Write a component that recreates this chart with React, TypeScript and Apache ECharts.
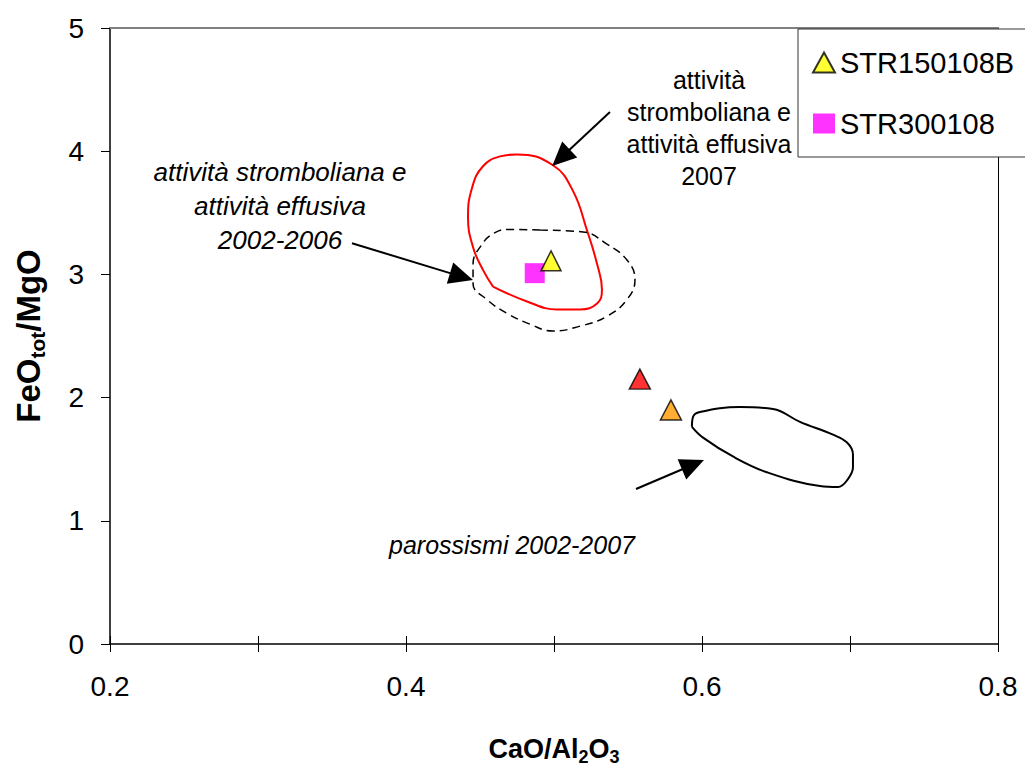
import React, { useEffect, useRef } from "react";
import * as echarts from "echarts";

const FONT = '"Liberation Sans", Arial, Helvetica, sans-serif';

// Axis settings
const X_MIN = 0.2;
const X_MAX = 0.8;
const X_STEP = 0.1;
const Y_MIN = 0;
const Y_MAX = 5;
const Y_STEP = 1;

// Samples [CaO/Al2O3, FeOtot/MgO]
const STR150108B = [[0.498, 3.11]];
const STR300108 = [[0.487, 3.01]];
const SAMPLE_RED = [[0.558, 2.15]];
const SAMPLE_ORANGE = [[0.579, 1.9]];

// Compositional fields (closed outlines)
const FIELD_2007 = [
  [0.4588, 2.901],
  [0.4818, 2.78],
  [0.502, 2.716],
  [0.5176, 2.716],
  [0.5291, 2.764],
  [0.5324, 2.877],
  [0.5291, 3.085],
  [0.5223, 3.357],
  [0.5128, 3.678],
  [0.4993, 3.886],
  [0.475, 3.974],
  [0.4635, 3.958],
  [0.452, 3.878],
  [0.4446, 3.702],
  [0.4419, 3.462],
  [0.4453, 3.221],
  [0.452, 3.037],
  [0.4588, 2.901],
];

const FIELD_2002_2006 = [
  [0.4905, 3.36],
  [0.5196, 3.345],
  [0.5358, 3.245],
  [0.5493, 3.117],
  [0.5547, 2.957],
  [0.5493, 2.796],
  [0.5358, 2.66],
  [0.5176, 2.58],
  [0.4993, 2.54],
  [0.4838, 2.596],
  [0.4682, 2.684],
  [0.4547, 2.796],
  [0.4453, 2.925],
  [0.4453, 3.085],
  [0.4514, 3.245],
  [0.4588, 3.33],
  [0.4682, 3.365],
  [0.4905, 3.36],
];

const FIELD_PAROX = [
  [0.5932, 1.763],
  [0.5939, 1.843],
  [0.5986, 1.883],
  [0.6257, 1.923],
  [0.648, 1.907],
  [0.6662, 1.803],
  [0.6885, 1.699],
  [0.698, 1.635],
  [0.702, 1.538],
  [0.702, 1.434],
  [0.6986, 1.338],
  [0.6919, 1.274],
  [0.6797, 1.282],
  [0.6439, 1.394],
  [0.6209, 1.522],
  [0.6007, 1.675],
  [0.5932, 1.763],
];

// Arrows [start, head]
const ARROWS = [
  [[0.5378, 4.319], [0.5047, 3.947]],
  [[0.3635, 3.253], [0.4375, 2.982]],
  [[0.5554, 1.258], [0.5939, 1.455]],
];

const LABEL_2007 = ["attività", "stromboliana e", "attività effusiva", "2007"];
const LABEL_2002_2006 = ["attività stromboliana e", "attività effusiva", "2002-2006"];
const LABEL_PAROX = ["parossismi 2002-2007"];

const LEGEND_ITEMS = ["STR150108B", "STR300108"];

export default function App() {
  const ref = useRef<HTMLDivElement>(null);

  useEffect(() => {
    if (!ref.current) return;
    const chart = echarts.init(ref.current, null, { renderer: "svg" });

    const richX = {
      b: { fontSize: 27, fontWeight: "bold", fontFamily: FONT, color: "#000", lineHeight: 34 },
      s: { fontSize: 18, fontWeight: "bold", fontFamily: FONT, color: "#000", verticalAlign: "bottom" },
    };
    const richY = {
      b: { fontSize: 33, fontWeight: "bold", fontFamily: FONT, color: "#000", lineHeight: 40 },
      s: { fontSize: 21, fontWeight: "bold", fontFamily: FONT, color: "#000", verticalAlign: "bottom" },
    };

    const triStyle = (color: string) => ({
      color,
      borderColor: "#000",
      borderWidth: 1.5,
    });

    const option: any = {
      animation: false,
      backgroundColor: "#fff",
      grid: { left: 110, right: 27, top: 28, bottom: 119, containLabel: false },
      legend: {
        data: LEGEND_ITEMS,
        orient: "vertical",
        left: 798,
        top: 29,
        padding: [19, 40, 19, 14],
        itemGap: 32,
        itemWidth: 22,
        itemHeight: 20,
        borderColor: "#333",
        borderWidth: 1,
        borderRadius: 0,
        backgroundColor: "#fff",
        textStyle: { fontSize: 29, fontFamily: FONT, color: "#000" },
        selectedMode: false,
      },
      xAxis: [
        {
          type: "value",
          min: X_MIN,
          max: X_MAX,
          interval: X_STEP,
          position: "bottom",
          axisLine: { show: true, lineStyle: { color: "#000", width: 1.5 } },
          axisTick: { show: true, length: 8, lineStyle: { color: "#000", width: 1 } },
          axisLabel: {
            fontSize: 28,
            fontFamily: FONT,
            color: "#000",
            margin: 28,
            formatter: (v: number) => (Math.round(v * 10) % 2 === 0 ? v.toFixed(1) : ""),
          },
          splitLine: { show: false },
          name: "{b|CaO/Al}{s|2}{b|O}{s|3}",
          nameLocation: "middle",
          nameGap: 88,
          nameTextStyle: { rich: richX },
        },
        {
          type: "value",
          min: X_MIN,
          max: X_MAX,
          interval: X_STEP,
          position: "bottom",
          axisLine: { show: false },
          axisTick: { show: true, inside: true, length: 8, lineStyle: { color: "#000", width: 1 } },
          axisLabel: { show: false },
          splitLine: { show: false },
        },
        {
          type: "value",
          min: X_MIN,
          max: X_MAX,
          position: "top",
          axisLine: { show: true, lineStyle: { color: "#808080", width: 2 } },
          axisTick: { show: false },
          axisLabel: { show: false },
          splitLine: { show: false },
        },
      ],
      yAxis: [
        {
          type: "value",
          min: Y_MIN,
          max: Y_MAX,
          interval: Y_STEP,
          position: "left",
          axisLine: { show: true, lineStyle: { color: "#000", width: 1.5 } },
          axisTick: { show: true, length: 9, lineStyle: { color: "#000", width: 1 } },
          axisLabel: { fontSize: 28, fontFamily: FONT, color: "#000", margin: 26 },
          splitLine: { show: false },
          name: "{b|FeO}{s|tot}{b|/MgO}",
          nameLocation: "middle",
          nameRotate: 90,
          nameGap: 62,
          nameTextStyle: { rich: richY },
        },
        {
          type: "value",
          min: Y_MIN,
          max: Y_MAX,
          position: "right",
          axisLine: { show: true, lineStyle: { color: "#000", width: 1 } },
          axisTick: { show: false },
          axisLabel: { show: false },
          splitLine: { show: false },
        },
      ],
      series: [
        {
          name: "attività stromboliana e attività effusiva 2007",
          type: "line",
          data: FIELD_2007,
          smooth: 0.45,
          symbol: "none",
          lineStyle: { color: "#ff0000", width: 2 },
          silent: true,
          z: 2,
        },
        {
          name: "attività stromboliana e attività effusiva 2002-2006",
          type: "line",
          data: FIELD_2002_2006,
          smooth: 0.45,
          symbol: "none",
          lineStyle: { color: "#000", width: 1.5, type: [8, 5] },
          silent: true,
          z: 2,
        },
        {
          name: "parossismi 2002-2007",
          type: "line",
          data: FIELD_PAROX,
          smooth: 0.4,
          symbol: "none",
          lineStyle: { color: "#000", width: 2 },
          silent: true,
          z: 2,
          markLine: {
            silent: true,
            animation: false,
            symbol: ["none", "triangle"],
            symbolSize: [22, 24],
            label: { show: false },
            lineStyle: { color: "#000", width: 2, type: "solid" },
            itemStyle: { color: "#000" },
            data: ARROWS.map(([a, b]) => [{ coord: a }, { coord: b }]),
          },
        },
        {
          name: "sample red",
          type: "scatter",
          data: SAMPLE_RED,
          symbol: "triangle",
          symbolSize: [21, 20],
          itemStyle: triStyle("#ff0000"),
          z: 5,
        },
        {
          name: "sample orange",
          type: "scatter",
          data: SAMPLE_ORANGE,
          symbol: "triangle",
          symbolSize: [21, 20],
          itemStyle: triStyle("#ff9900"),
          z: 5,
        },
        {
          name: "STR300108",
          type: "scatter",
          data: STR300108,
          symbol: "rect",
          symbolSize: 20,
          itemStyle: { color: "#ff00ff" },
          z: 5,
        },
        {
          name: "STR150108B",
          type: "scatter",
          data: STR150108B,
          symbol: "triangle",
          symbolSize: [20, 20],
          itemStyle: triStyle("#ffff00"),
          z: 6,
        },
      ],
      graphic: [
        {
          type: "text",
          x: 709,
          y: 128,
          z: 10,
          style: {
            text: LABEL_2007.join("\n"),
            fontSize: 25,
            fontFamily: FONT,
            fill: "#000",
            textAlign: "center",
            textVerticalAlign: "middle",
            lineHeight: 32,
          },
        },
        {
          type: "text",
          x: 280,
          y: 206,
          z: 10,
          style: {
            text: LABEL_2002_2006.join("\n"),
            fontSize: 26,
            fontStyle: "italic",
            fontFamily: FONT,
            fill: "#000",
            textAlign: "center",
            textVerticalAlign: "middle",
            lineHeight: 34,
          },
        },
        {
          type: "text",
          x: 512,
          y: 545,
          z: 10,
          style: {
            text: LABEL_PAROX.join("\n"),
            fontSize: 25,
            fontStyle: "italic",
            fontFamily: FONT,
            fill: "#000",
            textAlign: "center",
            textVerticalAlign: "middle",
          },
        },
      ],
    };

    chart.setOption(option);
    return () => chart.dispose();
  }, []);

  return (
    <div
      ref={ref}
      style={{ position: "fixed", left: 0, top: 0, width: 1025, height: 771, background: "#fff" }}
    />
  );
}
